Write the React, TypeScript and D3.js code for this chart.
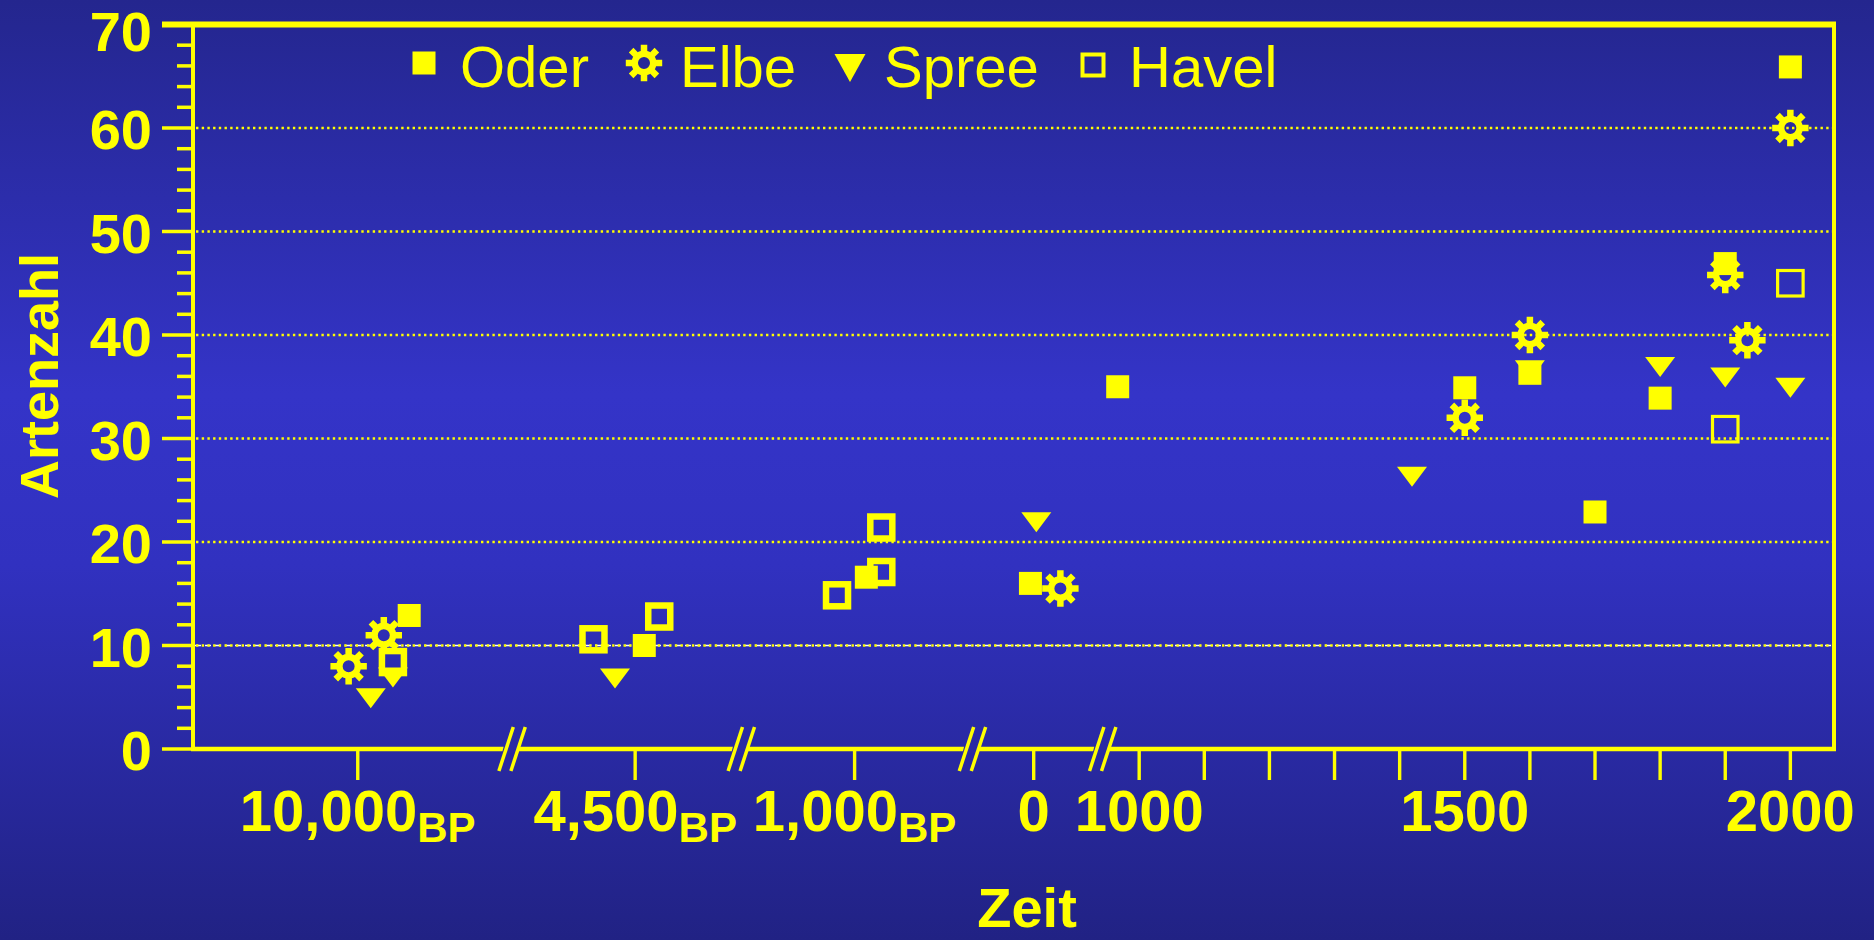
import React from "react";
import * as d3 from "d3";

const W = 1874;
const H = 940;

// ---- data (x: calendar year, BP dates written as negative years) ----
const seriesNames = ["Oder", "Elbe", "Spree", "Havel"];

const oderX = [-9921, -4486, -982, -5, 967, 1500, 1600, 1700, 1800, 1900, 2000];
const oderY = [12.9, 10.0, 16.6, 16.0, 35.0, 34.9, 36.3, 22.9, 33.9, 46.9, 65.9];

const elbeX = [-10014, -9960, 41, 1500, 1600, 1900, 1934, 2000];
const elbeY = [8.0, 11.0, 15.5, 32.0, 40.0, 45.8, 39.5, 60.0];

const spreeX = [-9980, -9946, -4531, 4, 1419, 1600, 1800, 1900, 2000];
const spreeY = [4.9, 6.9, 6.8, 21.9, 26.3, 36.6, 36.9, 35.9, 34.9];

const havelX = [-9946, -4564, -4463, -1027, -959, -959, 1900, 2000];
const havelY = [8.4, 10.6, 12.8, 14.85, 17.1, 21.4, 30.9, 45.0];

// broken time axis: segments (years)
const segmentDomains: [number, number][] = [
  [-10253, -9763],
  [-4689, -4337],
  [-1174, -819],
  [-94, 106],
  [944, 2067],
];
const segmentTicks: number[][] = [[-10000], [-4500], [-1000], [0], d3.range(1000, 2001, 100)];
const xLabelValues = [-10000, -4500, -1000, 0, 1000, 1500, 2000];
const xLabelMain = ["10,000", "4,500", "1,000", "0", "1000", "1500", "2000"];
const xLabelSub = ["BP", "BP", "BP", "", "", "", ""];

const yMajorTicks = d3.range(0, 71, 10);
const yMinorTicks = d3.range(0, 71, 2).filter((v) => v % 10 !== 0);
const yGrid = [10, 20, 30, 40, 50, 60];

const xTitle = "Zeit";
const yTitle = "Artenzahl";

// ---- layout ----
const plotLeft = 193;
const plotRight = 1834;
const plotTop = 24.5;
const plotBottom = 749;
const YELLOW = "#ffff00";
const FONT = "'Comic Sans MS', 'Liberation Sans', Arial, sans-serif";

const totalYears = d3.sum(segmentDomains, (d) => d[1] - d[0]);
const pxPerYear = (plotRight - plotLeft) / totalYears;
let acc = plotLeft;
const segments = segmentDomains.map((dom) => {
  const x0 = acc;
  const x1 = acc + (dom[1] - dom[0]) * pxPerYear;
  acc = x1;
  return { dom, x0, x1, scale: d3.scaleLinear().domain(dom).range([x0, x1]) };
});
const xPos = (t: number) => {
  const s = segments.find((sg) => t >= sg.dom[0] && t <= sg.dom[1]) || segments[segments.length - 1];
  return s.scale(t);
};
const y = d3.scaleLinear().domain([0, 70]).range([plotBottom, plotTop]);

function gearPath(rBody: number, rOut: number, toothW: number, rHole: number, n = 8) {
  const pts: [number, number][] = [];
  const a1 = Math.asin(toothW / 2 / rBody);
  const a2 = Math.asin(toothW / 2 / rOut);
  const step = (2 * Math.PI) / n;
  for (let i = 0; i < n; i++) {
    const th = i * step - Math.PI / 2;
    pts.push([rBody * Math.cos(th - a1), rBody * Math.sin(th - a1)]);
    pts.push([rOut * Math.cos(th - a2), rOut * Math.sin(th - a2)]);
    pts.push([rOut * Math.cos(th + a2), rOut * Math.sin(th + a2)]);
    pts.push([rBody * Math.cos(th + a1), rBody * Math.sin(th + a1)]);
    const from = th + a1;
    const to = th + step - a1;
    for (let j = 1; j < 4; j++) {
      const a = from + ((to - from) * j) / 4;
      pts.push([rBody * Math.cos(a), rBody * Math.sin(a)]);
    }
  }
  const outer = "M" + pts.map((p) => p[0].toFixed(2) + "," + p[1].toFixed(2)).join("L") + "Z";
  const hole = `M${rHole},0A${rHole},${rHole} 0 1,0 ${-rHole},0A${rHole},${rHole} 0 1,0 ${rHole},0Z`;
  return outer + hole;
}

const GEAR = gearPath(12.5, 18.5, 6.5, 6);

function Square({ cx, cy, s }: { cx: number; cy: number; s: number }) {
  return <rect x={cx - s / 2} y={cy - s / 2} width={s} height={s} fill={YELLOW} />;
}
function OpenSquare({ cx, cy, s, sw }: { cx: number; cy: number; s: number; sw: number }) {
  return (
    <rect x={cx - s / 2} y={cy - s / 2} width={s} height={s} fill="none" stroke={YELLOW} strokeWidth={sw} />
  );
}
function Tri({ cx, cy, w, h }: { cx: number; cy: number; w: number; h: number }) {
  return (
    <path d={`M${cx - w / 2},${cy - h / 2}L${cx + w / 2},${cy - h / 2}L${cx},${cy + h / 2}Z`} fill={YELLOW} />
  );
}
function Gear({ cx, cy }: { cx: number; cy: number }) {
  return <path d={GEAR} transform={`translate(${cx},${cy})`} fill={YELLOW} fillRule="evenodd" />;
}

function BreakMark({ x }: { x: number }) {
  const yc = plotBottom;
  const half = 22;
  const dxs = 7.2;
  const off = 6;
  const l1 = [x - off - dxs, yc + half, x - off + dxs, yc - half];
  const l2 = [x + off - dxs, yc + half, x + off + dxs, yc - half];
  return (
    <g>
      <path
        d={`M${x - off - 2},${yc - 4}L${x + off + 2},${yc - 4}L${x + off - 2},${yc + 4}L${x - off - 4},${yc + 4}Z`}
        fill="#2a2aa4"
      />
      <line x1={l1[0]} y1={l1[1]} x2={l1[2]} y2={l1[3]} stroke={YELLOW} strokeWidth={3.5} />
      <line x1={l2[0]} y1={l2[1]} x2={l2[2]} y2={l2[3]} stroke={YELLOW} strokeWidth={3.5} />
    </g>
  );
}

export default function App() {
  const allTicks = segmentTicks.flat();
  return (
    <svg
      width={W}
      height={H}
      viewBox={`0 0 ${W} ${H}`}
      style={{ position: "fixed", left: 0, top: 0, display: "block" }}
      fontFamily={FONT}
    >
      <defs>
        <linearGradient id="bg" x1="0" y1="0" x2="0" y2="1">
          <stop offset="0" stopColor="#24268e" />
          <stop offset="0.42" stopColor="#3434c8" />
          <stop offset="0.6" stopColor="#3131c0" />
          <stop offset="1" stopColor="#212284" />
        </linearGradient>
      </defs>
      <rect x={0} y={0} width={W} height={H} fill="url(#bg)" />

      {/* grid */}
      <line
        x1={185}
        x2={plotRight}
        y1={y(10)}
        y2={y(10)}
        stroke="#ffffff"
        strokeWidth={1.5}
        strokeDasharray="6 4"
      />
      {yGrid.map((v) => (
        <line
          key={"g" + v}
          x1={plotLeft + 3}
          x2={plotRight}
          y1={y(v)}
          y2={y(v)}
          stroke={YELLOW}
          strokeWidth={2.4}
          strokeDasharray="2.4 3.3"
        />
      ))}

      {/* y axis */}
      <line x1={plotLeft} x2={plotLeft} y1={plotTop} y2={plotBottom + 2} stroke={YELLOW} strokeWidth={4} />
      {yMajorTicks.map((v) => (
        <line key={"M" + v} x1={162} x2={plotLeft} y1={y(v)} y2={y(v)} stroke={YELLOW} strokeWidth={3.5} />
      ))}
      {yMinorTicks.map((v) => (
        <line key={"m" + v} x1={177} x2={plotLeft} y1={y(v)} y2={y(v)} stroke={YELLOW} strokeWidth={3.5} />
      ))}
      {yMajorTicks.map((v) => (
        <text
          key={"yl" + v}
          x={152}
          y={Math.max(y(v) + 21, 51)}
          textAnchor="end"
          fontSize={56}
          fontWeight="bold"
          fill={YELLOW}
        >
          {v}
        </text>
      ))}

      {/* frame */}
      <line x1={162} x2={plotRight + 2} y1={plotTop} y2={plotTop} stroke={YELLOW} strokeWidth={6} />
      <line x1={plotRight} x2={plotRight} y1={plotTop} y2={plotBottom} stroke={YELLOW} strokeWidth={4} />

      {/* x axis */}
      <line x1={plotLeft - 2} x2={plotRight + 2} y1={plotBottom} y2={plotBottom} stroke={YELLOW} strokeWidth={4.5} />
      {allTicks.map((t) => (
        <line
          key={"xt" + t}
          x1={xPos(t)}
          x2={xPos(t)}
          y1={plotBottom}
          y2={plotBottom + 31}
          stroke={YELLOW}
          strokeWidth={3.4}
        />
      ))}
      {segments.slice(1).map((s, i) => (
        <BreakMark key={"b" + i} x={s.x0} />
      ))}
      {xLabelValues.map((t, i) => (
        <text
          key={"xl" + t}
          x={xPos(t)}
          y={831}
          textAnchor="middle"
          fontSize={58}
          fontWeight="bold"
          fill={YELLOW}
        >
          {xLabelMain[i]}
          {xLabelSub[i] ? (
            <tspan fontSize={42} dy={11}>
              {xLabelSub[i]}
            </tspan>
          ) : null}
        </text>
      ))}

      {/* axis titles */}
      <text x={1027} y={927} textAnchor="middle" fontSize={56} fontWeight="bold" fill={YELLOW}>
        {xTitle}
      </text>
      <text
        transform={`translate(58,376) rotate(-90)`}
        textAnchor="middle"
        fontSize={54}
        fontWeight="bold"
        fill={YELLOW}
      >
        {yTitle}
      </text>

      {/* data: Spree, Havel, Elbe, Oder (drawing order) */}
      {spreeX.map((t, i) => (
        <Tri key={"s" + i} cx={xPos(t)} cy={y(spreeY[i])} w={30} h={20} />
      ))}
      {havelX.map((t, i) =>
        t < 0 ? (
          <OpenSquare key={"h" + i} cx={xPos(t)} cy={y(havelY[i])} s={22} sw={6.5} />
        ) : (
          <OpenSquare key={"h" + i} cx={xPos(t)} cy={y(havelY[i])} s={25.5} sw={3.2} />
        )
      )}
      {elbeX.map((t, i) => (
        <Gear key={"e" + i} cx={xPos(t)} cy={y(elbeY[i])} />
      ))}
      {oderX.map((t, i) => (
        <Square key={"o" + i} cx={xPos(t)} cy={y(oderY[i])} s={23} />
      ))}

      {/* legend */}
      <g fill={YELLOW} fontSize={58}>
        <Square cx={424} cy={63} s={23} />
        <text x={460} y={87}>
          {seriesNames[0]}
        </text>
        <Gear cx={644} cy={63} />
        <text x={680} y={87}>
          {seriesNames[1]}
        </text>
        <Tri cx={850} cy={68} w={31} h={28} />
        <text x={884} y={87}>
          {seriesNames[2]}
        </text>
        <OpenSquare cx={1093} cy={65} s={21} sw={4} />
        <text x={1129} y={87}>
          {seriesNames[3]}
        </text>
      </g>
    </svg>
  );
}
